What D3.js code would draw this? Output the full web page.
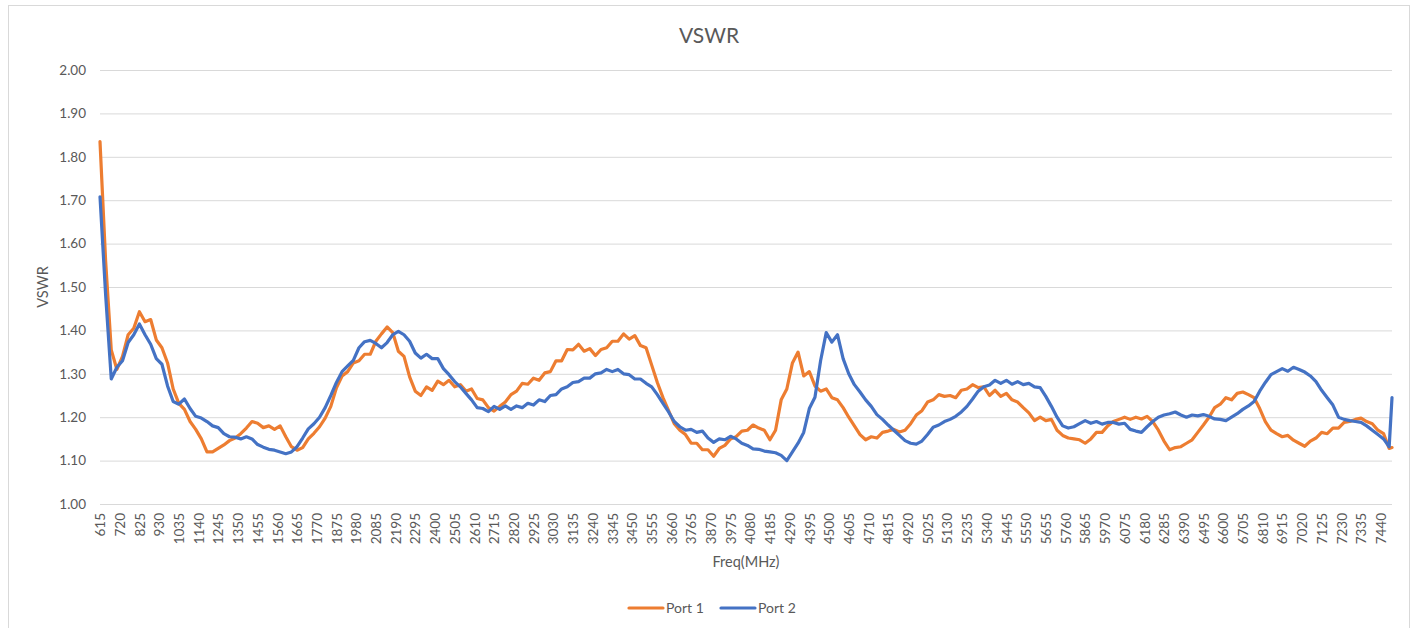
<!DOCTYPE html>
<html lang="en">
  <head>
    <meta charset="UTF-8">
    <script src="https://cdn.jsdelivr.net/npm/d3@7"></script>
    <style>
      body { margin: 0; background: #fff; }
      text { font-family: Lato, 'Open Sans', sans-serif; fill: #595959; }
    </style>
    <title>VSWR</title>
  </head>
  <body>
    <script>
      // VSWR of two ports, sampled every 30 MHz (last point at 7500)

      let freq = d3.range(615, 7486, 30).concat([7500]);

      let port1 = [
        1.835, 1.560, 1.355, 1.310, 1.340, 1.390, 1.405, 1.443, 1.420, 1.425,
        1.378, 1.360, 1.325, 1.265, 1.232, 1.218, 1.190, 1.172, 1.150, 1.120,
        1.120, 1.128, 1.136, 1.146, 1.152, 1.162, 1.175, 1.190, 1.186, 1.176,
        1.180, 1.172, 1.180, 1.155, 1.132, 1.124, 1.130, 1.150, 1.163, 1.178,
        1.198, 1.225, 1.268, 1.295, 1.305, 1.325, 1.330, 1.345, 1.345, 1.375,
        1.392, 1.408, 1.395, 1.352, 1.340, 1.293, 1.260, 1.250, 1.270, 1.262,
        1.283, 1.275, 1.285, 1.270, 1.275, 1.260, 1.265, 1.243, 1.240, 1.222,
        1.214, 1.225, 1.235, 1.252, 1.260, 1.278, 1.276, 1.290, 1.285, 1.302,
        1.305, 1.330, 1.330, 1.356, 1.355, 1.368, 1.352, 1.358, 1.342, 1.356,
        1.360, 1.375, 1.375, 1.392, 1.380, 1.388, 1.365, 1.360, 1.320, 1.280,
        1.245, 1.215, 1.185, 1.170, 1.160, 1.140, 1.140, 1.125, 1.125, 1.110,
        1.128, 1.135, 1.150, 1.155, 1.168, 1.170, 1.182, 1.175, 1.170, 1.148,
        1.170, 1.240, 1.265, 1.325, 1.350, 1.295, 1.305, 1.272, 1.260, 1.265,
        1.245, 1.240, 1.222, 1.200, 1.180, 1.160, 1.148, 1.155, 1.152, 1.165,
        1.168, 1.172, 1.166, 1.170, 1.185, 1.205, 1.215, 1.235, 1.240, 1.252,
        1.248, 1.250, 1.245, 1.262, 1.265, 1.275, 1.268, 1.270, 1.250, 1.262,
        1.248, 1.255, 1.240, 1.235, 1.222, 1.210, 1.192, 1.200, 1.192, 1.195,
        1.170, 1.158, 1.152, 1.150, 1.148, 1.140, 1.150, 1.165, 1.165, 1.180,
        1.190, 1.195, 1.200, 1.195, 1.200, 1.196, 1.202, 1.190, 1.170, 1.145,
        1.125, 1.130, 1.132, 1.140, 1.148, 1.165, 1.182, 1.200, 1.222, 1.230,
        1.245, 1.240, 1.255, 1.258, 1.252, 1.245, 1.220, 1.190, 1.170, 1.162,
        1.155, 1.158, 1.147, 1.140, 1.133, 1.145, 1.152, 1.165, 1.162, 1.175,
        1.175, 1.188, 1.190, 1.195, 1.198, 1.190, 1.185, 1.170, 1.162, 1.128,
        1.130
      ];

      let port2 = [
        1.708, 1.482, 1.288, 1.315, 1.330, 1.372, 1.390, 1.415, 1.390, 1.368,
        1.335, 1.322, 1.272, 1.236, 1.230, 1.242, 1.220, 1.202, 1.198, 1.190,
        1.180, 1.176, 1.162, 1.155, 1.154, 1.150, 1.155, 1.150, 1.137, 1.131,
        1.126, 1.124, 1.120, 1.116, 1.120, 1.132, 1.152, 1.173, 1.185, 1.200,
        1.222, 1.250, 1.280, 1.305, 1.318, 1.331, 1.360, 1.374, 1.377, 1.370,
        1.360, 1.372, 1.390, 1.398, 1.390, 1.375, 1.348, 1.336, 1.345, 1.335,
        1.335, 1.312, 1.298, 1.282, 1.270, 1.255, 1.240, 1.222, 1.220, 1.213,
        1.225, 1.218, 1.226, 1.218, 1.226, 1.222, 1.232, 1.228, 1.240, 1.236,
        1.250, 1.252, 1.265, 1.270, 1.280, 1.282, 1.290, 1.290, 1.300, 1.302,
        1.310, 1.305, 1.310, 1.300, 1.298, 1.288, 1.288, 1.278, 1.270, 1.252,
        1.232, 1.212, 1.190, 1.178, 1.170, 1.172, 1.165, 1.168, 1.152, 1.142,
        1.150, 1.148, 1.156, 1.150, 1.140, 1.135, 1.127, 1.126, 1.122, 1.120,
        1.118, 1.112, 1.100, 1.120, 1.140, 1.165, 1.220, 1.246, 1.330, 1.395,
        1.373, 1.390, 1.335, 1.300, 1.275, 1.258, 1.240, 1.225, 1.206, 1.195,
        1.182, 1.170, 1.158, 1.146, 1.140, 1.138, 1.145, 1.160, 1.177, 1.182,
        1.190, 1.195, 1.202, 1.212, 1.225, 1.242, 1.260, 1.270, 1.274, 1.285,
        1.278, 1.285, 1.276, 1.282, 1.275, 1.278, 1.270, 1.268, 1.248, 1.225,
        1.200, 1.180, 1.175, 1.178, 1.185, 1.192, 1.186, 1.190, 1.184, 1.188,
        1.188, 1.184, 1.186, 1.172, 1.168, 1.165, 1.178, 1.190, 1.200, 1.205,
        1.208, 1.212, 1.205, 1.200, 1.205, 1.203, 1.206, 1.202, 1.196, 1.195,
        1.192, 1.200, 1.208, 1.218, 1.226, 1.236, 1.260, 1.280, 1.298, 1.305,
        1.312, 1.306, 1.315, 1.310, 1.304, 1.295, 1.282, 1.262, 1.245, 1.228,
        1.200, 1.195, 1.192, 1.190, 1.188, 1.180, 1.170, 1.160, 1.150, 1.132,
        1.245
      ];

      let xTickLabels = [
        615, 720, 825, 930, 1035, 1140, 1245, 1350, 1455, 1560, 1665, 1770,
        1875, 1980, 2085, 2190, 2295, 2400, 2505, 2610, 2715, 2820, 2925, 3030,
        3135, 3240, 3345, 3450, 3555, 3660, 3765, 3870, 3975, 4080, 4185, 4290,
        4395, 4500, 4605, 4710, 4815, 4920, 5025, 5130, 5235, 5340, 5445, 5550,
        5655, 5760, 5865, 5970, 6075, 6180, 6285, 6390, 6495, 6600, 6705, 6810,
        6915, 7020, 7125, 7230, 7335, 7440
      ];
      let yTicks = [1.0, 1.1, 1.2, 1.3, 1.4, 1.5, 1.6, 1.7, 1.8, 1.9, 2.0];

      let seriesNames = ['Port 1', 'Port 2'];
      let colors = ['#ED7D31', '#4472C4'];

      let w = 1416;
      let h = 628;
      let plotLeft = 100, plotRight = 1392, plotTop = 70, plotBottom = 504;

      let xScale = d3.scaleLinear()
                      .domain([615, 7500])
                      .range([plotLeft, plotRight]);

      let yScale = d3.scaleLinear()
                      .domain([1, 2])
                      .range([plotBottom, plotTop]);

      let svg = d3.select('body')
                  .append('svg')
                  .attr('width', w)
                  .attr('height', h);

      // Chart border
      svg.append('rect')
          .attr('x', 8.5)
          .attr('y', 5.5)
          .attr('width', 1401)
          .attr('height', 640)
          .attr('fill', '#fff')
          .attr('stroke', '#d9d9d9');

      // Gridlines (the 1.00 one doubles as the axis line)
      let yAxis = d3.axisLeft(yScale)
                    .tickValues(yTicks)
                    .tickSize(-(plotRight - plotLeft))
                    .tickPadding(14)
                    .tickFormat(d3.format('.2f'));

      let gy = svg.append('g')
                  .attr('transform', `translate(${plotLeft},0)`)
                  .call(yAxis);
      gy.select('.domain').remove();
      gy.selectAll('.tick line').attr('stroke', '#d9d9d9');
      gy.selectAll('.tick text').attr('font-size', 13.5);

      let xAxis = d3.axisBottom(xScale)
                    .tickValues(xTickLabels)
                    .tickSize(0)
                    .tickFormat(d3.format('d'));

      let gx = svg.append('g')
                  .attr('transform', `translate(0,${plotBottom})`)
                  .call(xAxis);
      gx.select('.domain').remove();
      gx.selectAll('.tick text')
          .attr('font-size', 13.5)
          .attr('text-anchor', 'end')
          .attr('transform', 'rotate(-90)')
          .attr('x', -9)
          .attr('y', 0)
          .attr('dy', '0.35em');

      // Lines
      let line = d3.line()
                   .x((d, i) => xScale(freq[i]))
                   .y(d => yScale(d));

      [port1, port2].forEach((s, k) => {
        svg.append('path')
            .datum(s)
            .attr('d', line)
            .attr('fill', 'none')
            .attr('stroke', colors[k])
            .attr('stroke-width', 3.2)
            .attr('stroke-linejoin', 'round')
            .attr('stroke-linecap', 'round');
      });

      // Titles
      svg.append('text')
          .text('VSWR')
          .attr('x', 709)
          .attr('y', 43)
          .attr('text-anchor', 'middle')
          .attr('font-size', 21);

      svg.append('text')
          .text('VSWR')
          .attr('transform', 'translate(48,287) rotate(-90)')
          .attr('text-anchor', 'middle')
          .attr('font-size', 14.5);

      svg.append('text')
          .text('Freq(MHz)')
          .attr('x', 746)
          .attr('y', 567)
          .attr('text-anchor', 'middle')
          .attr('font-size', 14.5);

      // Legend
      let legendX = [628, 720];
      seriesNames.forEach((name, k) => {
        let g = svg.append('g')
                   .attr('transform', `translate(${legendX[k]},608)`);
        g.append('line')
            .attr('x1', 1).attr('x2', 35)
            .attr('stroke', colors[k])
            .attr('stroke-width', 3.2)
            .attr('stroke-linecap', 'round');
        g.append('text')
            .text(name)
            .attr('x', 38)
            .attr('dy', '0.35em')
            .attr('font-size', 14);
      });
    </script>
  </body>
</html>
